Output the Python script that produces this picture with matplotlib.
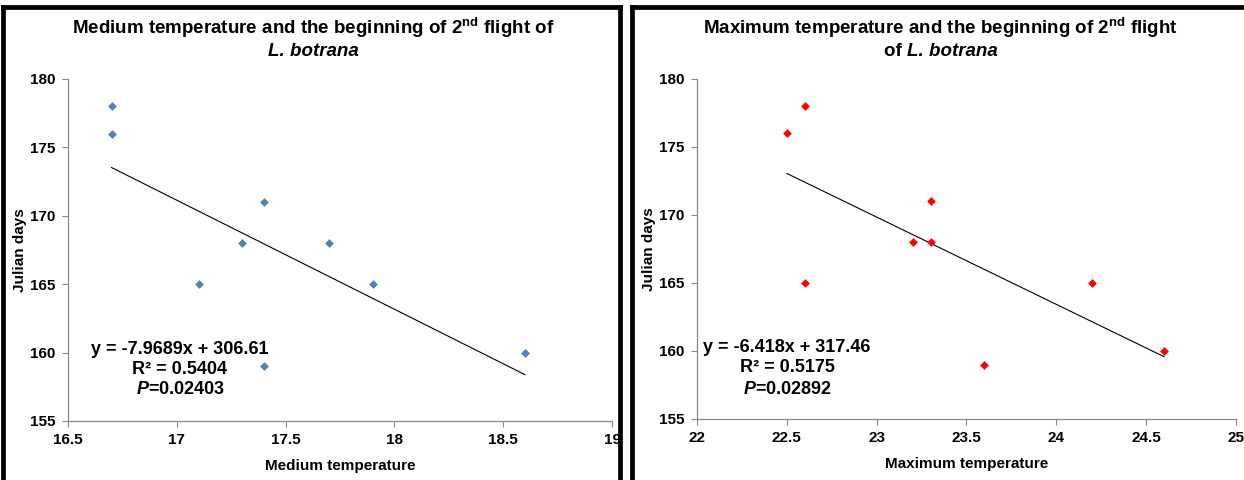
import matplotlib
matplotlib.use("Agg")
import matplotlib.pyplot as plt
from matplotlib import font_manager
from matplotlib.lines import Line2D
import numpy as np

# ---- data ----
med_temp = [16.7, 16.7, 17.1, 17.3, 17.4, 17.4, 17.7, 17.9, 18.6]
med_days = [178, 176, 165, 168, 171, 159, 168, 165, 160]
max_temp = [22.5, 22.6, 22.6, 23.2, 23.3, 23.3, 23.6, 24.2, 24.6]
max_days = [176, 178, 165, 168, 171, 168, 159, 165, 160]
med_fit = (-7.9689, 306.61)
max_fit = (-6.418, 317.46)
med_stats = ["y = -7.9689x + 306.61", "R² = 0.5404", "0.02403"]
max_stats = ["y = -6.418x + 317.46", "R² = 0.5175", "0.02892"]
med_xticks = [16.5, 17, 17.5, 18, 18.5, 19]
max_xticks = [22, 22.5, 23, 23.5, 24, 24.5, 25]
yticks = [155, 160, 165, 170, 175, 180]

names = {f.name for f in font_manager.fontManager.ttflist}
FONT = "Liberation Sans Narrow" if "Liberation Sans Narrow" in names else "Liberation Sans"
plt.rcParams["font.family"] = [FONT, "DejaVu Sans"]
plt.rcParams["font.weight"] = "bold"
plt.rcParams["mathtext.fontset"] = "custom"
plt.rcParams["mathtext.rm"] = f"{FONT}:bold"
plt.rcParams["mathtext.it"] = f"{FONT}:italic:bold"
plt.rcParams["mathtext.bf"] = f"{FONT}:bold"

W, H = 1244, 480
fig = plt.figure(figsize=(W / 100, H / 100), dpi=100)

def fx(px):
    return px / W

def fy(py):
    return 1 - py / H

# panel borders
lw = 3.4
for (x0, x1, y0, y1) in [(3, 3, 7, 480), (3, 620, 7, 7), (620, 620, 7, 480),
                         (632, 632, 7, 480), (632, 1244, 7, 7)]:
    fig.add_artist(Line2D([fx(x0), fx(x1)], [fy(y0), fy(y1)], color="black",
                          lw=lw, solid_capstyle="projecting"))

def panel(rect, xs, ys, fit, xticks, xlim, color, xlabel, title, tcenter, stats, stat_pos):
    ax = fig.add_axes(rect)
    ax.scatter(xs, ys, marker="D", s=20, color=color, zorder=3, linewidths=0)
    xl = np.array([min(xs), max(xs)])
    ax.plot(xl, fit[0] * xl + fit[1], color="black", lw=0.8)
    ax.set_xlim(*xlim)
    ax.set_ylim(155, 180)
    ax.set_xticks(xticks)
    ax.set_xticklabels([f"{t:g}" for t in xticks])
    ax.set_yticks(yticks)
    for s in ["top", "right"]:
        ax.spines[s].set_visible(False)
    for s in ["left", "bottom"]:
        ax.spines[s].set_color("#888888")
        ax.spines[s].set_linewidth(0.9)
    ax.tick_params(direction="out", length=4, color="#888888", labelsize=11,
                   pad=5)
    for lab in ax.get_xticklabels() + ax.get_yticklabels():
        lab.set_fontweight("bold")
    ax.set_xlabel(xlabel, fontsize=11, fontweight="bold", labelpad=8)
    ax.set_ylabel("Julian days", fontsize=11, fontweight="bold", labelpad=2)
    fig.text(fx(tcenter), fy(28), title[0], ha="center", va="center",
             fontsize=13.5, fontweight="bold")
    prefix, species = title[1]
    if prefix:
        fig.text(fx(tcenter - 33), fy(52), prefix + " ", ha="right", va="center",
                 fontsize=13.5, fontweight="bold")
        fig.text(fx(tcenter - 33), fy(52), species, ha="left", va="center",
                 fontsize=13.5, fontweight="bold", style="italic")
    else:
        fig.text(fx(tcenter), fy(52), species, ha="center", va="center",
                 fontsize=13.5, fontweight="bold", style="italic")
    cx, y1 = stat_pos
    fs = 13
    fig.text(fx(cx), fy(y1), stats[0], ha="center", va="center", fontsize=fs, fontweight="bold")
    fig.text(fx(cx), fy(y1 + 20), stats[1], ha="center", va="center", fontsize=fs, fontweight="bold")
    fig.text(fx(cx), fy(y1 + 41), r"$\mathit{P}$=" + stats[2], ha="center", va="center",
             fontsize=fs, fontweight="bold")
    return ax

panel([fx(68), fy(421), fx(612) - fx(68), fy(79) - fy(421)],
      med_temp, med_days, med_fit, med_xticks, (16.5, 19), "#4F81BD",
      "Medium temperature",
      [r"Medium temperature and the beginning of 2$^{\mathrm{nd}}$ flight of",
       ("", "L. botrana")], 313,
      med_stats, (180, 349))

panel([fx(697), fy(419), fx(1236) - fx(697), fy(79) - fy(419)],
      max_temp, max_days, max_fit, max_xticks, (22, 25), "#FF0000",
      "Maximum temperature",
      [r"Maximum temperature and the beginning of 2$^{\mathrm{nd}}$ flight",
       ("of", "L. botrana")], 940,
      max_stats, (787, 348))

fig.savefig("out.png", dpi=100)
